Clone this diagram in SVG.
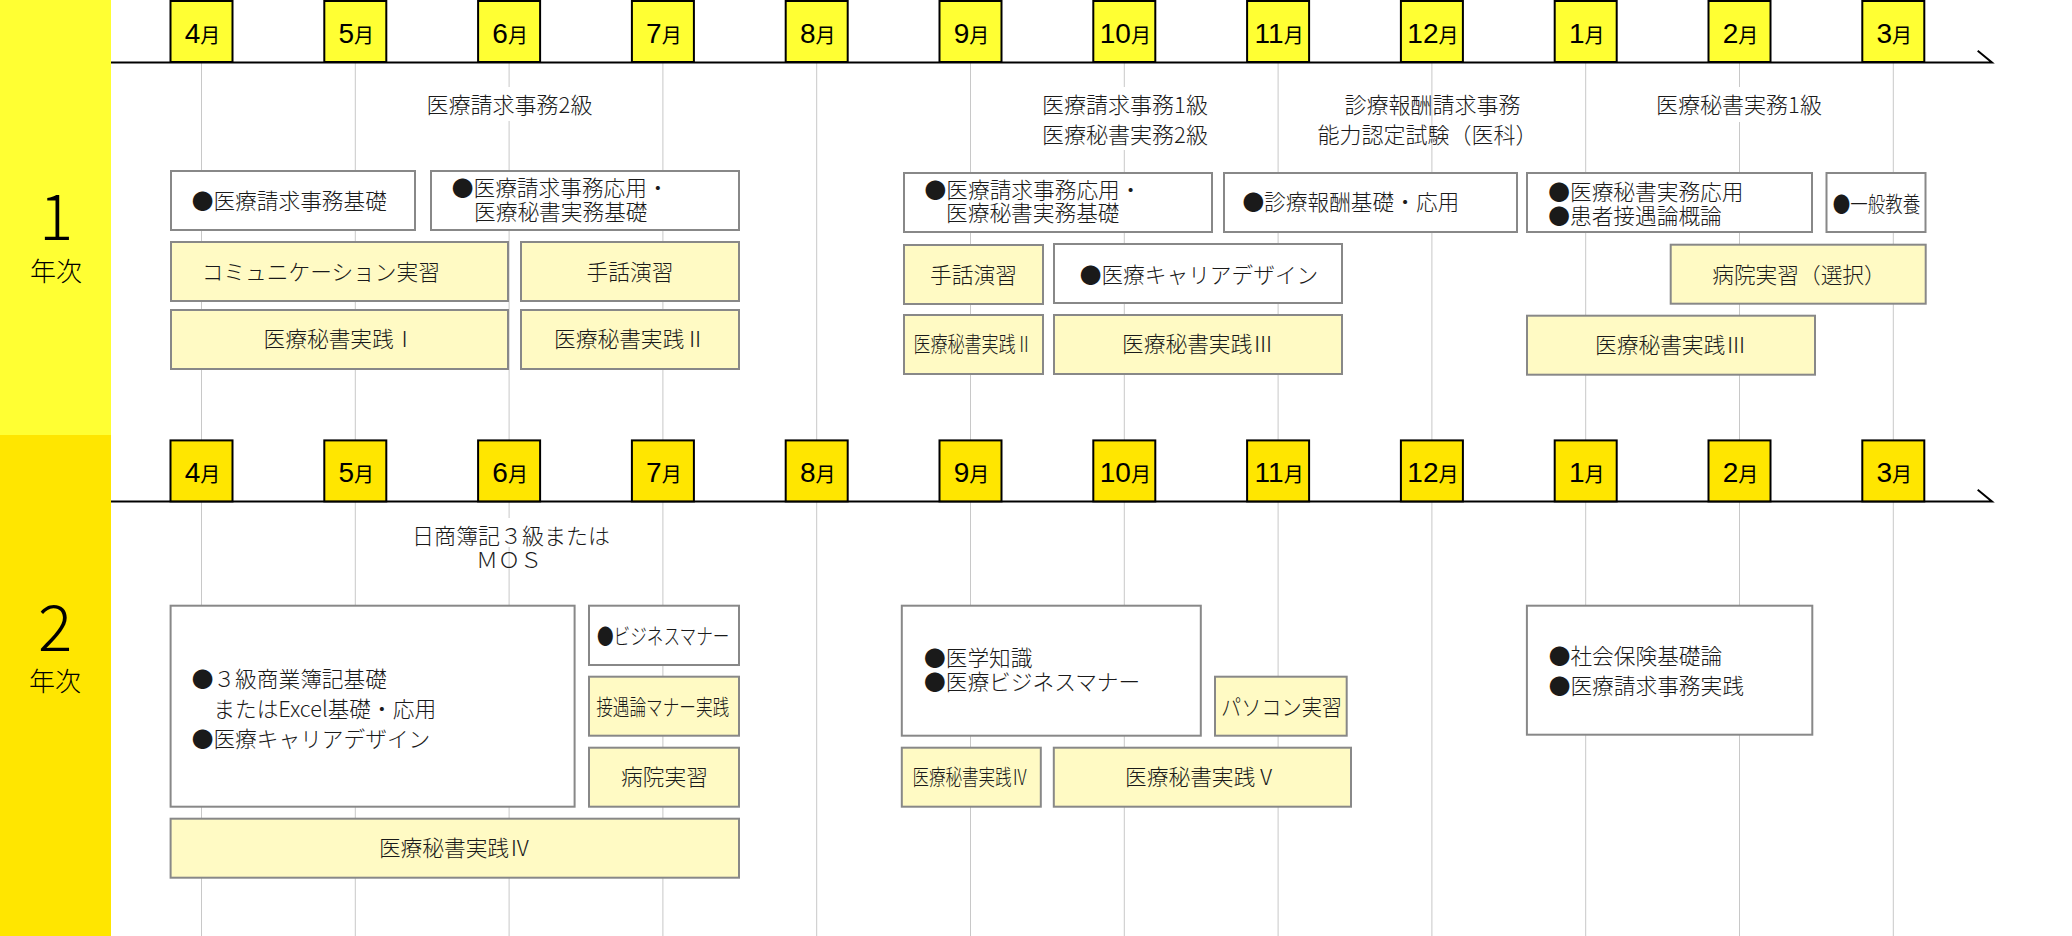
<svg xmlns="http://www.w3.org/2000/svg" width="2072" height="936" viewBox="0 0 2072 936">
<style>
.mb1{fill:#ffff33;stroke:#000;stroke-width:2}
.mb2{fill:#ffe600;stroke:#000;stroke-width:2}
.mt{font-family:"Liberation Sans",Arial,sans-serif;font-size:28px;fill:#000;text-anchor:middle}
.mj{font-family:"Noto Sans CJK JP",sans-serif;font-size:20px}
.bw{fill:#fff;stroke:#888;stroke-width:2}
.by{fill:#fffac4;stroke:#888;stroke-width:2}
.j{font-family:"Noto Sans CJK JP",sans-serif;font-size:21.7px;font-weight:300;fill:#1a1a1a}
.lb{font-family:"Noto Sans CJK JP",sans-serif;font-size:22px;font-weight:300;fill:#1a1a1a;text-anchor:middle}
.c{text-anchor:middle}
.grid{stroke:#c8c8c8;stroke-width:1}
.axis{stroke:#000;stroke-width:2;fill:none}
.yr{font-family:"Noto Sans CJK JP",sans-serif;font-weight:300;fill:#000;text-anchor:middle}
.bg{fill:#fff}
</style>

<g id="bands">
<rect x="0" y="0" width="111" height="435" fill="#ffff33"/>
<rect x="0" y="435" width="111" height="501" fill="#ffe600"/>
<text class="yr" x="56" y="240" font-size="64">1</text>
<text class="yr" x="56" y="281" font-size="26">年次</text>
<text class="yr" x="55" y="651" font-size="64">2</text>
<text class="yr" x="55" y="691" font-size="26">年次</text>
</g>

<g id="connectors">
<g id="gridlines">
<line class="grid" x1="201.5" y1="62" x2="201.5" y2="936"/>
<line class="grid" x1="355.3" y1="62" x2="355.3" y2="936"/>
<line class="grid" x1="509.1" y1="62" x2="509.1" y2="936"/>
<line class="grid" x1="662.9" y1="62" x2="662.9" y2="936"/>
<line class="grid" x1="816.7" y1="62" x2="816.7" y2="936"/>
<line class="grid" x1="970.5" y1="62" x2="970.5" y2="936"/>
<line class="grid" x1="1124.3" y1="62" x2="1124.3" y2="936"/>
<line class="grid" x1="1278.1" y1="62" x2="1278.1" y2="936"/>
<line class="grid" x1="1431.9" y1="62" x2="1431.9" y2="936"/>
<line class="grid" x1="1585.7" y1="62" x2="1585.7" y2="936"/>
<line class="grid" x1="1739.5" y1="62" x2="1739.5" y2="936"/>
<line class="grid" x1="1893.3" y1="62" x2="1893.3" y2="936"/>
</g>
<path class="axis" d="M111 62.5 H1992 L1977.7 50.7"/>
<path class="axis" d="M111 501.5 H1992 L1977.7 489.7"/>
</g>

<g id="months1">
<rect class="mb1" x="170.5" y="1" width="62" height="61"/><text class="mt" x="202.5" y="42.7">4<tspan class="mj">月</tspan></text>
<rect class="mb1" x="324.3" y="1" width="62" height="61"/><text class="mt" x="356.3" y="42.7">5<tspan class="mj">月</tspan></text>
<rect class="mb1" x="478.1" y="1" width="62" height="61"/><text class="mt" x="510.1" y="42.7">6<tspan class="mj">月</tspan></text>
<rect class="mb1" x="631.9" y="1" width="62" height="61"/><text class="mt" x="663.9" y="42.7">7<tspan class="mj">月</tspan></text>
<rect class="mb1" x="785.7" y="1" width="62" height="61"/><text class="mt" x="817.7" y="42.7">8<tspan class="mj">月</tspan></text>
<rect class="mb1" x="939.5" y="1" width="62" height="61"/><text class="mt" x="971.5" y="42.7">9<tspan class="mj">月</tspan></text>
<rect class="mb1" x="1093.3" y="1" width="62" height="61"/><text class="mt" x="1125.3" y="42.7">10<tspan class="mj">月</tspan></text>
<rect class="mb1" x="1247.1" y="1" width="62" height="61"/><text class="mt" x="1279.1" y="42.7">11<tspan class="mj">月</tspan></text>
<rect class="mb1" x="1400.9" y="1" width="62" height="61"/><text class="mt" x="1432.9" y="42.7">12<tspan class="mj">月</tspan></text>
<rect class="mb1" x="1554.7" y="1" width="62" height="61"/><text class="mt" x="1586.7" y="42.7">1<tspan class="mj">月</tspan></text>
<rect class="mb1" x="1708.5" y="1" width="62" height="61"/><text class="mt" x="1740.5" y="42.7">2<tspan class="mj">月</tspan></text>
<rect class="mb1" x="1862.3" y="1" width="62" height="61"/><text class="mt" x="1894.3" y="42.7">3<tspan class="mj">月</tspan></text>
</g>

<g id="months2">
<rect class="mb2" x="170.5" y="440.4" width="62" height="61"/><text class="mt" x="202.5" y="482">4<tspan class="mj">月</tspan></text>
<rect class="mb2" x="324.3" y="440.4" width="62" height="61"/><text class="mt" x="356.3" y="482">5<tspan class="mj">月</tspan></text>
<rect class="mb2" x="478.1" y="440.4" width="62" height="61"/><text class="mt" x="510.1" y="482">6<tspan class="mj">月</tspan></text>
<rect class="mb2" x="631.9" y="440.4" width="62" height="61"/><text class="mt" x="663.9" y="482">7<tspan class="mj">月</tspan></text>
<rect class="mb2" x="785.7" y="440.4" width="62" height="61"/><text class="mt" x="817.7" y="482">8<tspan class="mj">月</tspan></text>
<rect class="mb2" x="939.5" y="440.4" width="62" height="61"/><text class="mt" x="971.5" y="482">9<tspan class="mj">月</tspan></text>
<rect class="mb2" x="1093.3" y="440.4" width="62" height="61"/><text class="mt" x="1125.3" y="482">10<tspan class="mj">月</tspan></text>
<rect class="mb2" x="1247.1" y="440.4" width="62" height="61"/><text class="mt" x="1279.1" y="482">11<tspan class="mj">月</tspan></text>
<rect class="mb2" x="1400.9" y="440.4" width="62" height="61"/><text class="mt" x="1432.9" y="482">12<tspan class="mj">月</tspan></text>
<rect class="mb2" x="1554.7" y="440.4" width="62" height="61"/><text class="mt" x="1586.7" y="482">1<tspan class="mj">月</tspan></text>
<rect class="mb2" x="1708.5" y="440.4" width="62" height="61"/><text class="mt" x="1740.5" y="482">2<tspan class="mj">月</tspan></text>
<rect class="mb2" x="1862.3" y="440.4" width="62" height="61"/><text class="mt" x="1894.3" y="482">3<tspan class="mj">月</tspan></text>
</g>

<g id="label-iryo2">
<rect class="bg" x="420" y="87" width="178" height="34"/>
<text class="lb" x="509.5" y="113">医療請求事務2級</text>
</g>
<g id="label-iryo1">
<rect class="bg" x="1036" y="87" width="178" height="63"/>
<text class="lb" x="1125" y="113">医療請求事務1級</text>
<text class="lb" x="1125" y="143">医療秘書実務2級</text>
</g>
<g id="label-shinryo">
<text class="lb" x="1432.5" y="113">診療報酬請求事務</text>
<text class="lb" x="1427.5" y="143">能力認定試験（医科）</text>
</g>
<g id="label-hisho1">
<rect class="bg" x="1650" y="87" width="178" height="35"/>
<text class="lb" x="1739" y="113">医療秘書実務1級</text>
</g>

<g id="y1-seikyu-kiso"><rect class="bw" x="171" y="171" width="244" height="59"/><text class="j" x="191.7" y="208.5">●医療請求事務基礎</text></g>
<g id="y1-seikyu-oyo"><rect class="bw" x="431" y="171" width="308" height="59"/><text class="j" x="451.8" y="195.5">●医療請求事務応用・</text><text class="j" x="474" y="220">医療秘書実務基礎</text></g>
<g id="y1-comm"><rect class="by" x="171" y="242" width="337" height="59"/><text class="j" x="201.7" y="279.5">コミュニケーション実習</text></g>
<g id="y1-shuwa1"><rect class="by" x="521" y="242" width="218" height="59"/><text class="j c" x="630" y="279.5">手話演習</text></g>
<g id="y1-jissen1"><rect class="by" x="171" y="310" width="337" height="59"/><text class="j c" x="339.5" y="347">医療秘書実践Ⅰ</text></g>
<g id="y1-jissen2a"><rect class="by" x="521" y="310" width="218" height="59"/><text class="j c" x="630" y="347">医療秘書実践Ⅱ</text></g>

<g id="y1-seikyu-oyo2"><rect class="bw" x="904" y="173" width="308" height="59"/><text class="j" x="924.6" y="197.5">●医療請求事務応用・</text><text class="j" x="946" y="221">医療秘書実務基礎</text></g>
<g id="y1-shinryo"><rect class="bw" x="1224" y="173" width="293" height="59"/><text class="j" x="1242.4" y="210">●診療報酬基礎・応用</text></g>
<g id="y1-shuwa2"><rect class="by" x="904" y="245" width="139" height="59"/><text class="j c" x="973.5" y="282.5">手話演習</text></g>
<g id="y1-career"><rect class="bw" x="1054" y="244" width="288" height="59"/><text class="j c" x="1199" y="282.5">●医療キャリアデザイン</text></g>
<g id="y1-jissen2b"><rect class="by" x="904" y="315" width="139" height="59"/><text class="j" x="913.4" y="352" textLength="119" lengthAdjust="spacingAndGlyphs">医療秘書実践Ⅱ</text></g>
<g id="y1-jissen3a"><rect class="by" x="1054" y="315" width="288" height="59"/><text class="j c" x="1198" y="352">医療秘書実践Ⅲ</text></g>

<g id="y1-hisho-oyo"><rect class="bw" x="1527" y="173" width="285" height="59"/><text class="j" x="1548.3" y="199.5">●医療秘書実務応用</text><text class="j" x="1548.3" y="223.5">●患者接遇論概論</text></g>
<g id="y1-ippan"><rect class="bw" x="1826.5" y="173" width="99" height="59"/><text class="j" x="1832.7" y="212" textLength="87.5" lengthAdjust="spacingAndGlyphs">●一般教養</text></g>
<g id="y1-byoin"><rect class="by" x="1670.7" y="244.7" width="255" height="59"/><text class="j c" x="1799" y="282.5">病院実習（選択）</text></g>
<g id="y1-jissen3b"><rect class="by" x="1527" y="315.7" width="288" height="59"/><text class="j c" x="1671" y="353">医療秘書実践Ⅲ</text></g>

<g id="label-boki">
<rect class="bg" x="408" y="518" width="206" height="29"/>
<text class="lb" x="511" y="544">日商簿記３級または</text>
<text class="lb" x="509" y="568">ＭＯＳ</text>
</g>

<g id="y2-boki"><rect class="bw" x="170.6" y="605.7" width="404" height="201"/><text class="j" x="191.7" y="687">●３級商業簿記基礎</text><text class="j" x="213.3" y="716.5">またはExcel基礎・応用</text><text class="j" x="191.7" y="746.5">●医療キャリアデザイン</text></g>
<g id="y2-business"><rect class="bw" x="589" y="605.7" width="150" height="59.3"/><text class="j" x="597" y="643.5" textLength="132.5" lengthAdjust="spacingAndGlyphs">●ビジネスマナー</text></g>
<g id="y2-setsugu"><rect class="by" x="589" y="676.7" width="150" height="59"/><text class="j" x="596.2" y="714.5" textLength="133" lengthAdjust="spacingAndGlyphs">接遇論マナー実践</text></g>
<g id="y2-byoin"><rect class="by" x="589" y="747.7" width="150" height="59"/><text class="j c" x="664.5" y="785">病院実習</text></g>
<g id="y2-jissen4a"><rect class="by" x="170.6" y="818.7" width="568.4" height="59"/><text class="j c" x="454.8" y="856">医療秘書実践Ⅳ</text></g>

<g id="y2-igaku"><rect class="bw" x="901.8" y="605.7" width="299" height="130"/><text class="j" x="924" y="666">●医学知識</text><text class="j" x="924" y="690">●医療ビジネスマナー</text></g>
<g id="y2-pc"><rect class="by" x="1215" y="676.7" width="131.7" height="59"/><text class="j" x="1221" y="714.5" textLength="121" lengthAdjust="spacingAndGlyphs">パソコン実習</text></g>
<g id="y2-jissen4b"><rect class="by" x="901.8" y="747.7" width="139" height="59"/><text class="j" x="912.4" y="785" textLength="115.6" lengthAdjust="spacingAndGlyphs">医療秘書実践Ⅳ</text></g>
<g id="y2-jissen5"><rect class="by" x="1053.8" y="747.7" width="297.2" height="59"/><text class="j c" x="1201" y="785">医療秘書実践Ⅴ</text></g>

<g id="y2-shakai"><rect class="bw" x="1526.9" y="605.7" width="285.4" height="129"/><text class="j" x="1548.7" y="664">●社会保険基礎論</text><text class="j" x="1548.7" y="694">●医療請求事務実践</text></g>
</svg>
